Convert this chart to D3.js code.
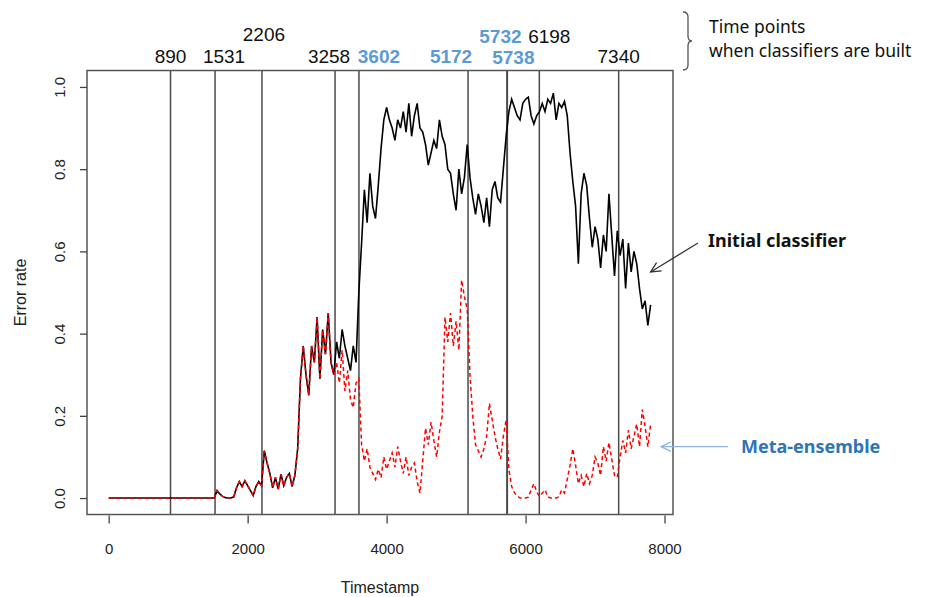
<!DOCTYPE html>
<html>
<head>
<meta charset="utf-8">
<script src="https://cdnjs.cloudflare.com/ajax/libs/d3/7.8.5/d3.min.js"></script>
<style>
  body { margin: 0; background: #fff; }
  .axis text { font-family: "Liberation Sans", Arial, sans-serif; font-size: 15px; fill: #222; }
  .axis line { stroke: #444; stroke-width: 1.3; }
  .note { font-family: "Noto Sans", sans-serif; }
</style>
</head>
<body>
<script>

// error rate sampled every 40 timestamps, 0 .. 7800
var step = 40
var timestamps = d3.range(0, 7801, step)

var initialErr = [
  0,0,0,0,0,0,0,0,0,0,                                  // 0
  0,0,0,0,0,0,0,0,0,0,                                  // 400
  0,0,0,0,0,0,0,0,0,0,                                  // 800
  0,0,0,0,0,0,0,0,0,.018,                               // 1200
  .01,.004,.001,0,0,.003,.025,.04,.028,.042,            // 1600
  .03,.018,.006,.028,.04,.03,.115,.085,.06,.025,        // 2000
  .05,.022,.058,.03,.05,.06,.028,.055,.12,.29,          // 2400
  .37,.3,.25,.37,.33,.44,.29,.41,.35,.45,               // 2800
  .33,.3,.38,.34,.41,.37,.34,.31,.37,.33,               // 3200
  .5,.62,.75,.67,.79,.71,.68,.76,.85,.92,               // 3600
  .95,.92,.9,.87,.92,.9,.94,.89,.96,.88,                // 4000
  .93,.96,.9,.89,.86,.81,.84,.87,.85,.92,               // 4400
  .88,.86,.8,.79,.74,.7,.8,.74,.78,.86,                 // 4800
  .78,.73,.69,.74,.71,.67,.73,.66,.75,.77,              // 5200
  .73,.72,.8,.88,.94,.97,.95,.93,.92,.96,               // 5600
  .97,.975,.93,.91,.93,.94,.96,.94,.97,.96,             // 6000
  .985,.92,.96,.95,.965,.93,.84,.77,.71,.57,            // 6400
  .74,.79,.76,.68,.61,.66,.63,.56,.64,.6,               // 6800
  .74,.64,.54,.65,.59,.63,.51,.62,.55,.6,               // 7200
  .57,.51,.46,.48,.42,.47                               // 7600
]

var metaErr = [
  0,0,0,0,0,0,0,0,0,0,                                  // 0
  0,0,0,0,0,0,0,0,0,0,                                  // 400
  0,0,0,0,0,0,0,0,0,0,                                  // 800
  0,0,0,0,0,0,0,0,0,.018,                               // 1200
  .01,.004,.001,0,0,.003,.025,.04,.028,.042,            // 1600
  .03,.018,.006,.028,.04,.03,.115,.085,.06,.025,        // 2000
  .05,.022,.058,.03,.05,.06,.028,.055,.12,.29,          // 2400
  .37,.3,.25,.37,.33,.44,.29,.41,.35,.45,               // 2800
  .33,.3,.33,.28,.36,.26,.31,.24,.22,.28,               // 3200
  .29,.13,.09,.12,.075,.06,.045,.07,.05,.1,             // 3600
  .07,.09,.11,.075,.125,.09,.06,.1,.055,.075,           // 4000
  .085,.04,.012,.09,.17,.13,.185,.14,.1,.16,            // 4400
  .2,.44,.38,.45,.37,.43,.36,.53,.49,.46,               // 4800
  .3,.2,.13,.115,.1,.12,.15,.23,.19,.15,                // 5200
  .12,.095,.15,.19,.07,.028,.013,.005,0,0,              // 5600
  0,.002,.02,.035,.015,.004,.012,.02,.003,0,            // 6000
  0,0,.003,.02,.012,.045,.08,.12,.08,.035,              // 6400
  .055,.028,.06,.035,.055,.1,.085,.055,.125,.09,        // 6800
  .135,.095,.055,.05,.1,.14,.11,.165,.12,.15,           // 7200
  .18,.125,.215,.175,.125,.18                           // 7600
]

// time points when classifiers are built
var buildTimes = [890, 1531, 2206, 3258, 3602, 5172, 5732, 5738, 6198, 7340]
var metaBuilt = [3602, 5172, 5732, 5738]

var xTicks = [0, 2000, 4000, 6000, 8000]
var yTicks = [0, 0.2, 0.4, 0.6, 0.8, 1.0]

var W = 928, H = 597
var box = {l: 87, r: 673, t: 70.5, b: 514.5}

var svg = d3.select("body").append("svg")
  .attr("width", W)
  .attr("height", H)

// R style 4% padding round the data range
var x = d3.scaleLinear().domain([-312, 8122]).range([box.l, box.r])
var y = d3.scaleLinear().domain([-0.04, 1.04]).range([box.b, box.t])

// vertical lines at build times
svg.selectAll("line.build")
  .data(buildTimes)
  .enter().append("line")
  .attr("class", "build")
  .attr("x1", function(d) { return x(d) })
  .attr("x2", function(d) { return x(d) })
  .attr("y1", box.t)
  .attr("y2", box.b)
  .attr("stroke", "#4a4a4a")
  .attr("stroke-width", 1.5)

var line = d3.line()
  .x(function(d, i) { return x(timestamps[i]) })
  .y(function(d) { return y(d) })

svg.append("path")
  .datum(initialErr)
  .attr("d", line)
  .attr("fill", "none")
  .attr("stroke", "#000")
  .attr("stroke-width", 1.6)

svg.append("path")
  .datum(metaErr)
  .attr("d", line)
  .attr("fill", "none")
  .attr("stroke", "#ff0000")
  .attr("stroke-width", 1.5)
  .attr("stroke-dasharray", "4,3")

// box
svg.append("rect")
  .attr("x", box.l).attr("y", box.t)
  .attr("width", box.r - box.l).attr("height", box.b - box.t)
  .attr("fill", "none")
  .attr("stroke", "#555")
  .attr("stroke-width", 1.5)

// axes
var xAxis = svg.append("g")
  .attr("class", "axis")
  .attr("transform", "translate(0," + (box.b + 1) + ")")
  .call(d3.axisBottom(x).tickValues(xTicks).tickSize(8).tickPadding(20)
    .tickFormat(d3.format("d")).tickSizeOuter(0))
xAxis.select(".domain").remove()

var yAxis = svg.append("g")
  .attr("class", "axis")
  .attr("transform", "translate(" + box.l + ",0)")
  .call(d3.axisLeft(y).tickValues(yTicks).tickSize(7).tickFormat(d3.format(".1f")))
yAxis.select(".domain").remove()
yAxis.selectAll("text")
  .attr("transform", "rotate(-90)")
  .attr("x", 0)
  .attr("y", -22)
  .attr("dy", 0)
  .attr("text-anchor", "middle")

svg.append("text")
  .attr("transform", "translate(26," + ((box.t + box.b) / 2) + ") rotate(-90)")
  .attr("text-anchor", "middle")
  .style("font-family", "Liberation Sans, Arial, sans-serif")
  .style("font-size", "16px")
  .attr("fill", "#222")
  .text("Error rate")

svg.append("text")
  .attr("x", (box.l + box.r) / 2)
  .attr("y", 593)
  .attr("text-anchor", "middle")
  .style("font-family", "Liberation Sans, Arial, sans-serif")
  .style("font-size", "16px")
  .attr("fill", "#222")
  .text("Timestamp")

// labels above the box, nudged so they do not collide
var nudge = {890: [0, 63], 1531: [9, 63], 2206: [2, 40.5], 3258: [-6, 63], 3602: [20, 63],
  5172: [-17, 63], 5732: [-6.5, 43], 5738: [6, 64], 6198: [10, 43], 7340: [0, 63]}

svg.selectAll("text.build")
  .data(buildTimes)
  .enter().append("text")
  .attr("class", "build")
  .attr("x", function(d) { return x(d) + nudge[d][0] })
  .attr("y", function(d) { return nudge[d][1] })
  .attr("text-anchor", "middle")
  .style("font-family", "Liberation Sans, Arial, sans-serif")
  .style("font-size", "19px")
  .style("font-weight", function(d) { return metaBuilt.indexOf(d) >= 0 ? "bold" : "normal" })
  .attr("fill", function(d) { return metaBuilt.indexOf(d) >= 0 ? "#5b9bd5" : "#111" })
  .text(function(d) { return d })

// brace and its caption
svg.append("path")
  .attr("d", "M683,12 Q688,12 688,17 L688,36 Q688,41 692,41 Q688,41 688,46 L688,65 Q688,70 683,70")
  .attr("fill", "none")
  .attr("stroke", "#555")
  .attr("stroke-width", 1.3)

svg.append("text").attr("class", "note")
  .attr("x", 709).attr("y", 33)
  .style("font-size", "17.5px").attr("fill", "#111")
  .text("Time points")
svg.append("text").attr("class", "note")
  .attr("x", 709).attr("y", 57)
  .style("font-size", "17.5px").attr("fill", "#111")
  .text("when classifiers are built")

// series call-outs
function arrow(x1, y1, x2, y2, color) {
  var a = Math.atan2(y2 - y1, x2 - x1), h = 11
  svg.append("line")
    .attr("x1", x1).attr("y1", y1).attr("x2", x2).attr("y2", y2)
    .attr("stroke", color).attr("stroke-width", 1.3)
  svg.append("path")
    .attr("d", "M" + (x2 - h * Math.cos(a - 0.45)) + "," + (y2 - h * Math.sin(a - 0.45)) +
      " L" + x2 + "," + y2 +
      " L" + (x2 - h * Math.cos(a + 0.45)) + "," + (y2 - h * Math.sin(a + 0.45)))
    .attr("fill", "none").attr("stroke", color).attr("stroke-width", 1.3)
}

arrow(698, 243, x(7800), y(0.55), "#333")
svg.append("text").attr("class", "note")
  .attr("x", 708).attr("y", 247)
  .style("font-size", "18px").style("font-weight", "bold").attr("fill", "#111")
  .text("Initial classifier")

arrow(728, y(0.125), x(7950), y(0.125), "#8eb4e3")
svg.append("text").attr("class", "note")
  .attr("x", 741).attr("y", y(0.125) + 6)
  .style("font-size", "18px").style("font-weight", "bold").attr("fill", "#2e75b6")
  .text("Meta-ensemble")

</script>
</body>
</html>
